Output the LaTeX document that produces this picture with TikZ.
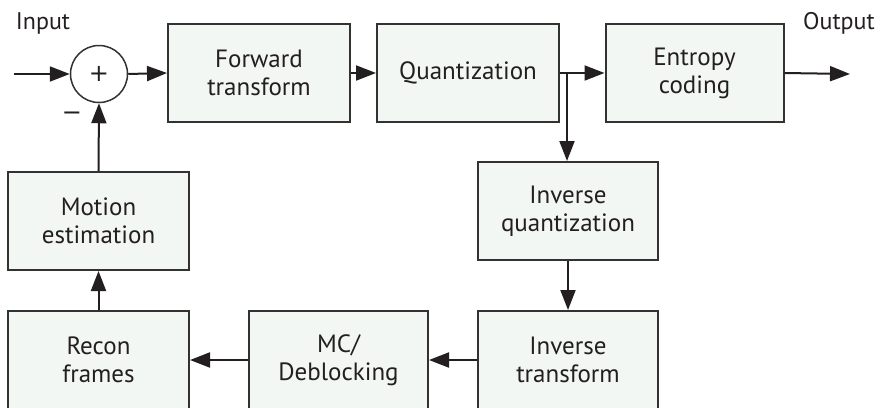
\documentclass[tikz,border=0pt]{standalone}
\usepackage{fontspec}
\setmainfont{PT Sans}
\newfontfamily\symfont{DejaVu Sans}
\usetikzlibrary{arrows.meta}
\definecolor{boxfill}{RGB}{243,247,244}
\definecolor{ink}{RGB}{35,31,32}
\definecolor{edge}{RGB}{50,50,50}
\tikzset{
  blk/.style={draw=edge, line width=2pt, fill=boxfill, text=ink, align=center,
    minimum height=98pt, inner sep=0pt, font=\fontsize{25}{28}\selectfont},
  conn/.style={draw=ink, line width=2pt, -{Triangle[length=20pt,width=15pt]}},
  lbl/.style={text=ink, font=\fontsize{24}{28}\selectfont, inner sep=0pt}
}
\begin{document}
\begin{tikzpicture}[x=1pt,y=-1pt]
\useasboundingbox (0,0) rectangle (888,407);
% nodes
\node[circle, draw=edge, line width=1.5pt, fill=white, minimum size=57pt, inner sep=0pt,
      text=ink, font=\symfont\fontsize{24}{24}\selectfont] (sum) at (99,74) {+};
\node[blk, minimum width=182pt] (fwd) at (259,73) {Forward\\transform};
\node[blk, minimum width=182pt] (quant) at (468,73) {Quantization};
\node[blk, minimum width=178pt] (ent) at (694.5,73) {Entropy\\coding};
\node[blk, minimum width=180pt] (iq) at (568,211) {Inverse\\quantization};
\node[blk, minimum width=180pt] (it) at (568,360) {Inverse\\transform};
\node[blk, minimum width=179pt] (mc) at (338.5,360) {MC/\\Deblocking};
\node[blk, minimum width=181pt] (rf) at (98.5,360) {Recon\\frames};
\node[blk, minimum width=181pt] (me) at (98.5,221) {Motion\\estimation};
% labels
\node[lbl] (inlbl) at (43,23) {Input};
\node[lbl] (outlbl) at (839,23) {Output};
\node[lbl, font=\symfont\fontsize{24}{24}\selectfont] (minus) at (72,116) {−};
% coordinates
\coordinate (in) at (14,74);
\coordinate (out) at (850,74);
\coordinate (br) at (567,74);
% connectors
\draw[conn] (in) -- (sum.west);
\draw[conn] (sum.east) -- (fwd.west);
\draw[conn] (fwd.east) -- (quant.west);
\draw[conn] (quant.east) -- (ent.west);
\draw[conn] (br) -- (br |- iq.north);
\draw[conn] (ent.east) -- (out);
\draw[conn] (iq.south) -- (it.north);
\draw[conn] (it.west) -- (mc.east);
\draw[conn] (mc.west) -- (rf.east);
\draw[conn] (rf.north) -- (me.south);
\draw[conn] (me.north) -- (sum.south);
\end{tikzpicture}
\end{document}
